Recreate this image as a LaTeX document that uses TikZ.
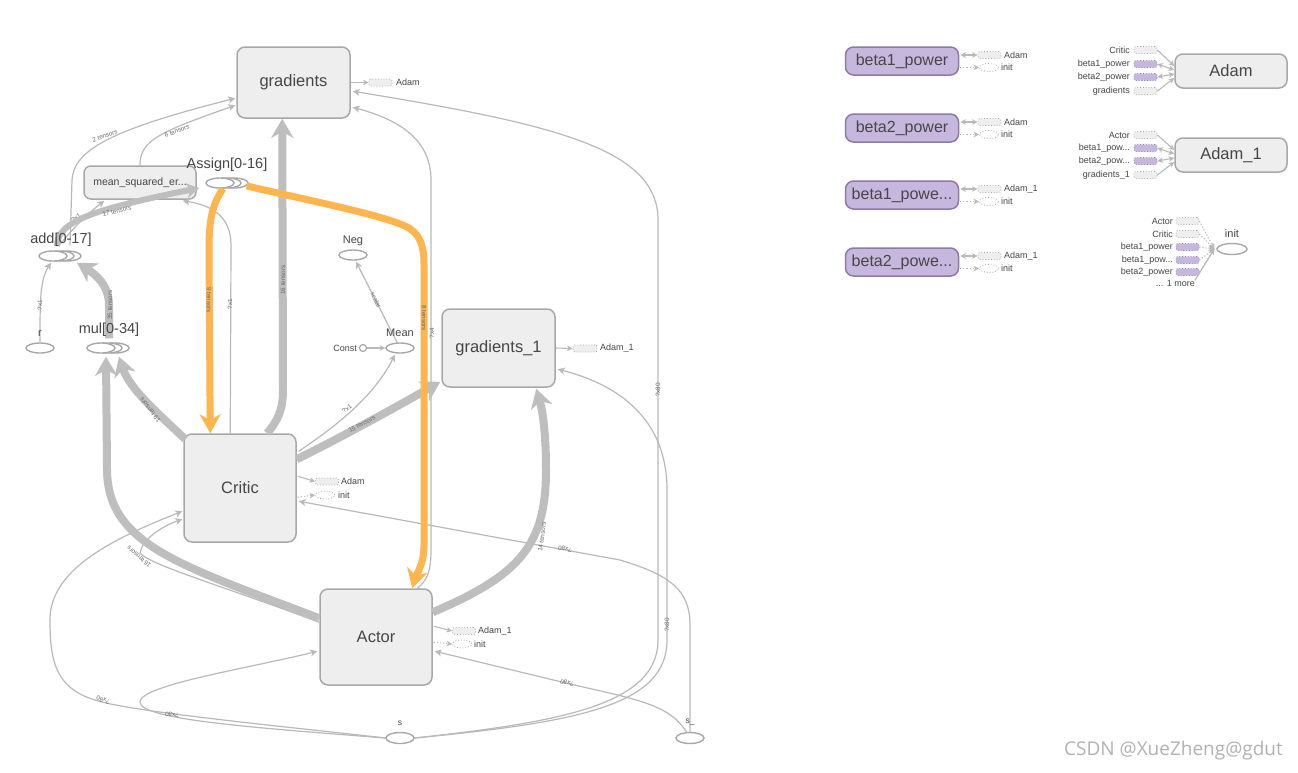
\documentclass[tikz,border=0pt]{standalone}
\usepackage{fontspec}
\setmainfont{Liberation Sans}
\newfontfamily\wmfont{Open Sans}
\usetikzlibrary{arrows.meta,shapes.geometric,calc}
\definecolor{boxfill}{RGB}{238,238,238}
\definecolor{boxline}{RGB}{168,168,168}
\definecolor{txt}{RGB}{70,70,70}
\definecolor{edgec}{RGB}{190,190,190}
\definecolor{thinc}{RGB}{185,185,185}
\definecolor{orng}{RGB}{255,181,77}
\definecolor{purp}{RGB}{198,183,223}
\definecolor{purpline}{RGB}{140,122,168}
\definecolor{lblc}{RGB}{105,105,105}
\definecolor{wm}{RGB}{178,178,178}
\newcommand\betanode[4]{%
  \node[pbox,minimum width=113pt,minimum height=28pt,font=\fontsize{16}{18}\selectfont] (#1) at (902,#2) {#3};
  \node[drect] (#1r) at (989.5,#2-6) {};
  \node[slab,anchor=west] (#1rl) at (1004,#2-6) {#4};
  \node[dell] (#1e) at (989,#2+6.5) {};
  \node[slab,anchor=west] (#1el) at (1001,#2+6.5) {init};
  \draw[dbl] ($(#1.east)+(1,-6)$) -- (#1r.west);
  \draw[dsmall] ($(#1.east)+(1,6.5)$) -- (#1e.west);
}
\begin{document}
\begin{tikzpicture}[x=1pt,y=-1pt,
  box/.style={draw=boxline,fill=boxfill,line width=1.5pt,rounded corners=8pt,inner sep=0pt,text=txt,font=\fontsize{16.5}{18}\selectfont},
  pbox/.style={box,fill=purp,draw=purpline},
  ell/.style={ellipse,draw=boxline,fill=white,line width=1.4pt,minimum width=28pt,minimum height=10pt,inner sep=0pt},
  nlab/.style={text=txt,inner sep=0pt,font=\fontsize{14.5}{16}\selectfont},
  slab/.style={text=txt,inner sep=0pt,font=\fontsize{9}{10}\selectfont},
  tlab/.style={text=txt,inner sep=0pt,font=\fontsize{8.5}{10}\selectfont},
  elab/.style={text=lblc,inner sep=0pt,font=\fontsize{6.3}{7}\selectfont},
  drect/.style={draw=boxline,dotted,fill=boxfill,line width=0.8pt,rounded corners=2pt,minimum width=23pt,minimum height=7pt,inner sep=0pt},
  prect/.style={drect,fill=purp,draw=purpline},
  dell/.style={ellipse,draw=boxline,dotted,line width=0.8pt,minimum width=19pt,minimum height=8pt,inner sep=0pt},
  thick/.style={draw=edgec,line width=8pt,-{Stealth[length=19pt,width=22pt,inset=6pt]}},
  midthick/.style={draw=edgec,line width=6pt,-{Stealth[length=13pt,width=15pt,inset=4pt]}},
  orange/.style={draw=orng,line width=7pt,-{Stealth[length=19pt,width=21pt,inset=6pt]}},
  thin/.style={draw=thinc,line width=1.2pt,-{Stealth[length=7pt,width=7pt,inset=2pt]}},
  small/.style={draw=thinc,line width=1.1pt,-{Stealth[length=5.5pt,width=5.5pt,inset=1.5pt]}},
  dbl/.style={draw=thinc,line width=1.1pt,{Stealth[length=5.5pt,width=5.5pt,inset=1.5pt]}-{Stealth[length=5.5pt,width=5.5pt,inset=1.5pt]}},
  dsmall/.style={small,dotted},
]
\useasboundingbox (0,0) rectangle (1298,772);
\fill[white] (0,0) rectangle (1298,772);

% ---------- main nodes ----------
\node[box,minimum width=113pt,minimum height=71pt] (grad) at (293.5,82.5) {gradients};
\node[box,minimum width=113pt,minimum height=78pt] (grad1) at (498.5,348) {gradients\_1};
\node[box,minimum width=112pt,minimum height=108pt] (critic) at (240,488) {Critic};
\node[box,minimum width=112pt,minimum height=96pt] (actor) at (376,637) {Actor};

% ---------- thin edges (drawn under everything) ----------
\draw[thin] ($(actor.north west)+(0,34)$) .. controls (220,585) and (150,565) .. (140,553)
   .. controls (142,540) and (160,527) .. ($(critic.north west)+(-1,86)$);
\node[ell,minimum height=11pt] (s) at (400,738) {};
\node[ell,minimum height=11pt] (sU) at (690,738) {};
\draw[thin] (s.west) .. controls (300,728) and (130,712) .. (95,700)
   .. controls (55,688) and (50,660) .. (50,620)
   .. controls (50,570) and (110,540) .. ($(critic.north west)+(-1,78)$);
\node[elab,rotate=162] (l_s_c) at (103,700) {?x80};
\draw[thin] (s.west) .. controls (260,728) and (140,720) .. (140,702)
   .. controls (140,685) and (250,668) .. ($(actor.north west)+(-2,63)$);
\node[elab,rotate=172] (l_s_a) at (172,715) {?x80};
\draw[thin] (s.east) .. controls (560,722) and (658,705) .. (658,640) -- (658,220)
   .. controls (658,150) and (560,125) .. ($(grad.north east)+(2,45)$);
\node[elab,rotate=90] (l_s_g) at (658,390) {?x80};
\draw[thin] (s.east) .. controls (580,722) and (667,705) .. (667,640) -- (667,490)
   .. controls (667,420) and (620,385) .. ($(grad1.north east)+(2,61)$);
\node[elab,rotate=90] (l_s_g1) at (667,625) {?x80};
\draw[thin] (sU.north) -- (690,625) .. controls (690,590) and (670,575) .. (620,560)
   -- ($(critic.north east)+(2,68)$);
\node[elab,rotate=169] (l_su_c) at (565,549) {?x80};
\draw[thin] ($(sU.north)+(-3,1)$) .. controls (670,705) and (640,700) .. (570,684)
   -- ($(actor.north east)+(2,63)$);
\node[elab,rotate=165] (l_su_a) at (567,683) {?x80};
\draw[thin] ($(actor.north west)+(98,0)$) .. controls (428,580) and (431,570) .. (431,550)
   -- (431,180) .. controls (431,140) and (400,120) .. ($(grad.north east)+(2,61)$);
\node[elab,rotate=90] (l_a_g) at (432,333) {?x4};
\node[box,rounded corners=7pt,minimum width=112pt,minimum height=33pt,font=\fontsize{10.5}{12}\selectfont] (msq) at (140,182.5) {mean\_squared\_er...};
\draw[thin] ($(critic.north west)+(47,0)$) -- (231,245) .. controls (231,215) and (210,205) .. ($(msq.south east)+(-14,1)$);
\node[elab,rotate=90] (l_c_m) at (230,304) {?x1};

% ---------- ellipse nodes ----------
\node[ell] (assign3) at (234,183) {};
\node[ell] (assign2) at (227,183) {};
\node[ell] (assign) at (220,183) {};
\node[ell] (add3) at (67,256) {};
\node[ell] (add2) at (60,256) {};
\node[ell] (add) at (53,256) {};
\node[ell] (mul3) at (115,348) {};
\node[ell] (mul2) at (108,348) {};
\node[ell] (mul) at (101,348) {};
\node[ell] (r) at (40,348) {};
\node[ell] (neg) at (353,255) {};
\node[ell] (mean) at (400,348) {};
\node[circle,draw=boxline,fill=white,line width=1.2pt,minimum size=7pt,inner sep=0pt] (const) at (363,348) {};
\node[slab,anchor=east] (constL) at (357,348) {Const};
\node[tlab] (sL) at (400,723) {s};
\node[tlab] (sUL) at (690,722) {s\_};

% ---------- thin edges among small nodes ----------
\draw[thin] (r.north) .. controls (40,300) and (40,280) .. ($(add.south)+(-2,1)$);
\node[elab,rotate=90] (l_r_a) at (40,305) {?x1};
\draw[thin] ($(add.north)+(17,-5)$) -- (72,180) .. controls (74,150) and (110,130) .. ($(grad.north west)+(-1,52)$);
\node[elab,rotate=19] (l_a_g2) at (105,136) {2 tensors};
\draw[thin] (msq.north) .. controls (140,140) and (160,132) .. ($(grad.north west)+(-1,59)$);
\node[elab,rotate=21] (l_m_g) at (177,131) {6 tensors};
\draw[thin] ($(add.north)+(6,-5)$) .. controls (68,235) and (80,220) .. ($(msq.south west)+(21,1)$);
\node[elab,rotate=40] (l_a_m) at (76,218) {?x1};
\draw[thin] ($(critic.north east)+(2,18)$) .. controls (330,430) and (372,400) .. ($(mean.south)+(-5,1)$);
\node[elab,rotate=38] (l_c_mean) at (347,409) {?x1};
\draw[thin] ($(mean.north)+(-3,0)$) -- ($(neg.south)+(3,1)$);
\node[elab,rotate=-64] (l_mean_neg) at (376,300) {scalar};
\draw[small] (const.east) -- (mean.west);

% ---------- thick edges ----------
\draw[thick] ($(critic.north west)+(84,0)$) .. controls (278,420) and (283,410) .. (283,390) -- ($(grad.south west)+(46,0)$);
\node[elab,rotate=90] (l_c_g) at (283,280) {16 tensors};
\draw[thick] ($(critic.north west)+(2,6)$) .. controls (160,415) and (130,390) .. ($(mul.south)+(18,3)$);
\node[elab,rotate=128] (l_c_mul) at (150,410) {19 tensors};
\draw[thick] ($(actor.north west)+(0,30)$) .. controls (180,565) and (108,545) .. (107,470) -- ($(mul.south)+(5,3)$);
\node[elab,rotate=140] (l_a_mul) at (139,557) {16 tensors};
\draw[thick] ($(critic.north east)+(0,26)$) .. controls (340,438) and (400,405) .. ($(grad1.south west)+(-1,-6)$);
\node[elab,rotate=28] (l_c_g1) at (362,424) {15 tensors};
\draw[thick] ($(actor.north east)+(0,24)$) .. controls (520,575) and (546,545) .. (546,470)
   .. controls (546,425) and (541,405) .. ($(grad1.south west)+(95,1)$);
\node[elab,rotate=82] (l_a_g1) at (542,537) {14 tensors};
\draw[thick] ($(mul3.north)+(-6,-4)$) -- (109,305) .. controls (109,285) and (95,274) .. ($(add3.south)+(10,1)$);
\node[elab,rotate=90] (l_mul_add) at (110,305) {35 tensors};
\draw[midthick] ($(add.north)+(4,-4)$) .. controls (57,222) and (90,210) .. ($(assign.west)+(-6,5)$);
\node[elab,rotate=13] (l_add_a) at (117,211) {17 tensors};

% ---------- orange edges ----------
\draw[orange] ($(assign.south)+(3,0)$) .. controls (212,205) and (209,220) .. (209,250) -- ($(critic.north west)+(27,0)$);
\node[elab,rotate=-90] (l_as_c) at (209,300) {9 tensors};
\draw[orange] ($(assign3.east)+(-2,3)$) .. controls (330,205) and (380,215) .. (405,226)
   .. controls (420,233) and (424,245) .. (424,265) -- (424,545)
   .. controls (424,565) and (416,575) .. ($(actor.north west)+(93,0)$);
\node[elab,rotate=-90] (l_as_a) at (424,318) {8 tensors};

% ---------- ellipse labels (drawn over the edges) ----------
\node[nlab] (assignL) at (227,165) {Assign[0-16]};
\node[nlab] (addL) at (61,240) {add[0-17]};
\node[nlab] (mulL) at (109,330) {mul[0-34]};
\node[nlab,font=\fontsize{11}{12}\selectfont] (rL) at (40,334) {r};
\node[nlab,font=\fontsize{11}{12}\selectfont] (negL) at (353,241) {Neg};
\node[nlab,font=\fontsize{11}{12}\selectfont] (meanL) at (400,333) {Mean};

% ---------- attachments ----------
\node[drect] (gAdam) at (380.5,82.5) {};
\node[slab,anchor=west] (gAdamL) at (396,82.5) {Adam};
\draw[small] (grad.east) -- (gAdam.west);
\node[drect,minimum width=24pt] (g1Adam) at (585,348.5) {};
\node[slab,anchor=west] (g1AdamL) at (600,348.5) {Adam\_1};
\draw[small] (grad1.east) -- (g1Adam.west);
\node[drect] (cAdam) at (327,481.5) {};
\node[slab,anchor=west] (cAdamL) at (341,481.5) {Adam};
\draw[small] ($(critic.north east)+(1,43)$) -- (cAdam.west);
\node[dell] (cInit) at (325,495) {};
\node[slab,anchor=west] (cInitL) at (338,495) {init};
\draw[dsmall] ($(critic.north east)+(1,64)$) -- (cInit.west);
\node[drect] (aAdam) at (464,631) {};
\node[slab,anchor=west] (aAdamL) at (478,631) {Adam\_1};
\draw[small] ($(actor.north east)+(1,38)$) -- (aAdam.west);
\node[dell] (aInit) at (462,644) {};
\node[slab,anchor=west] (aInitL) at (474,644) {init};
\draw[dsmall] ($(actor.north east)+(1,54)$) -- (aInit.west);

% ---------- right panel: beta nodes ----------
\betanode{bA}{61}{beta1\_power}{Adam}
\betanode{bB}{128}{beta2\_power}{Adam}
\betanode{bC}{195}{beta1\_powe...}{Adam\_1}
\betanode{bD}{262}{beta2\_powe...}{Adam\_1}

% ---------- Adam ----------
\node[box,minimum width=112pt,minimum height=34pt,font=\fontsize{16.5}{18}\selectfont] (adam) at (1231,71) {Adam};
\node[drect] (aiC) at (1145.5,50) {};
\node[prect] (aiB1) at (1145.5,64) {};
\node[prect] (aiB2) at (1145.5,77) {};
\node[drect] (aiG) at (1145.5,91) {};
\node[slab,anchor=east] (aiCL) at (1130,50) {Critic};
\node[slab,anchor=east] (aiB1L) at (1130,64) {beta1\_power};
\node[slab,anchor=east] (aiB2L) at (1130,77) {beta2\_power};
\node[slab,anchor=east] (aiGL) at (1130,91) {gradients};
\draw[small] (aiC.east) -- ($(adam.west)+(0,-5)$);
\draw[dbl] (aiB1.east) -- ($(adam.west)+(0,-1)$);
\draw[dbl] (aiB2.east) -- ($(adam.west)+(0,3)$);
\draw[small] (aiG.east) -- ($(adam.west)+(0,7)$);

% ---------- Adam_1 ----------
\node[box,minimum width=112pt,minimum height=34pt,font=\fontsize{16.5}{18}\selectfont] (adam1) at (1231,155) {Adam\_1};
\node[drect] (biA) at (1145.5,135) {};
\node[prect] (biB1) at (1145.5,148) {};
\node[prect] (biB2) at (1145.5,161) {};
\node[drect] (biG) at (1145.5,175) {};
\node[slab,anchor=east] (biAL) at (1130,135) {Actor};
\node[slab,anchor=east] (biB1L) at (1130,148) {beta1\_pow...};
\node[slab,anchor=east] (biB2L) at (1130,161) {beta2\_pow...};
\node[slab,anchor=east] (biGL) at (1130,175) {gradients\_1};
\draw[small] (biA.east) -- ($(adam1.west)+(0,-5)$);
\draw[dbl] (biB1.east) -- ($(adam1.west)+(0,-1)$);
\draw[dbl] (biB2.east) -- ($(adam1.west)+(0,3)$);
\draw[small] (biG.east) -- ($(adam1.west)+(0,7)$);

% ---------- init ----------
\node[ell,minimum width=30pt,minimum height=11pt] (init) at (1232,249) {};
\node[nlab,font=\fontsize{11}{12}\selectfont] (initL) at (1232,234) {init};
\coordinate (iconv) at ($(init.west)+(-2,0)$);
\node[drect] (ciA) at (1187.5,221) {};
\node[drect] (ciC) at (1187.5,234) {};
\node[prect] (ciB1) at (1187.5,247) {};
\node[prect] (ciB1b) at (1187.5,260) {};
\node[prect] (ciB2) at (1187.5,272) {};
\node[slab,anchor=east] (ciAL) at (1173,221) {Actor};
\node[slab,anchor=east] (ciCL) at (1173,234) {Critic};
\node[slab,anchor=east] (ciB1L) at (1173,247) {beta1\_power};
\node[slab,anchor=east] (ciB1bL) at (1173,260) {beta1\_pow...};
\node[slab,anchor=east] (ciB2L) at (1173,272) {beta2\_power};
\node[slab,anchor=east] (moreL) at (1195,283.5) {... 1 more};
\draw[dsmall] (ciA.east) -- (iconv);
\draw[dsmall] (ciC.east) -- (iconv);
\draw[dsmall] (ciB1.east) -- (iconv);
\draw[dsmall] (ciB1b.east) -- (iconv);
\draw[dsmall] (ciB2.east) -- (iconv);
\draw[small] (moreL.north east) -- (iconv);

% ---------- watermark ----------
\node[text=wm,inner sep=0pt,anchor=east,font=\wmfont\fontsize{19}{21}\selectfont] (wmark) at (1283,751) {CSDN @XueZheng@gdut};
\end{tikzpicture}
\end{document}
